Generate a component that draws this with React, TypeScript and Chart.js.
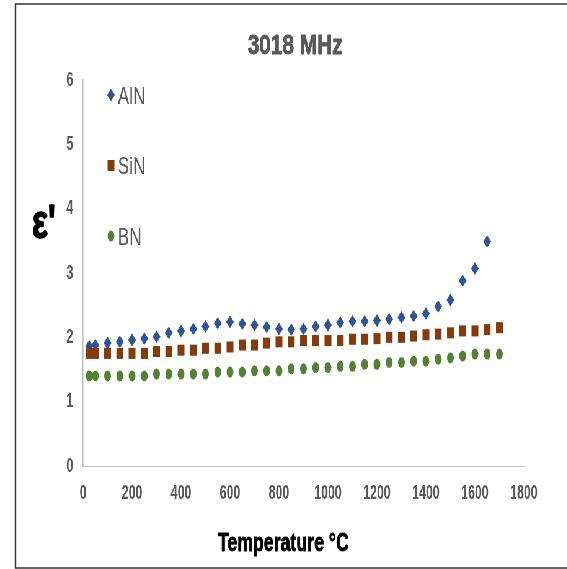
import React, { useEffect, useRef } from 'react';
import { Chart, registerables } from 'chart.js';

Chart.register(...registerables);

// Measurement temperatures (°C)
const temperatures = [
  25, 50, 100, 150, 200, 250, 300, 350, 400, 450, 500, 550, 600, 650, 700, 750, 800, 850,
  900, 950, 1000, 1050, 1100, 1150, 1200, 1250, 1300, 1350, 1400, 1450, 1500, 1550, 1600,
  1650, 1700,
];

// Real permittivity ε' at 3018 MHz
const alnValues = [
  1.86, 1.88, 1.91, 1.93, 1.96, 1.98, 2.01, 2.07, 2.1, 2.13, 2.17, 2.22, 2.24, 2.21, 2.19,
  2.16, 2.13, 2.12, 2.13, 2.17, 2.19, 2.23, 2.25, 2.25, 2.26, 2.28, 2.31, 2.33, 2.37, 2.48,
  2.58, 2.88, 3.07, 3.49,
];
const sinValues = [
  1.75, 1.75, 1.75, 1.75, 1.75, 1.75, 1.78, 1.78, 1.8, 1.8, 1.83, 1.83, 1.85, 1.88, 1.88,
  1.91, 1.93, 1.93, 1.95, 1.95, 1.95, 1.95, 1.97, 1.97, 1.98, 2.0, 2.0, 2.02, 2.04, 2.05,
  2.07, 2.1, 2.1, 2.12, 2.15,
];
const bnValues = [
  1.4, 1.4, 1.4, 1.4, 1.4, 1.4, 1.43, 1.43, 1.43, 1.43, 1.43, 1.46, 1.46, 1.46, 1.48, 1.48,
  1.48, 1.51, 1.51, 1.53, 1.53, 1.55, 1.55, 1.58, 1.58, 1.61, 1.61, 1.63, 1.63, 1.66, 1.68,
  1.71, 1.74, 1.74, 1.74,
];

const seriesLabels = ['AlN', 'SiN', 'BN'];
const xTickValues = [0, 200, 400, 600, 800, 1000, 1200, 1400, 1600, 1800];
const yTickValues = [0, 1, 2, 3, 4, 5, 6];

const chartTitle = '3018 MHz';
const xAxisTitle = 'Temperature °C';
const yAxisTitle = "ε'";

const FONT = "'Liberation Sans', Arial, sans-serif";
const SQUEEZE = 0.62; // horizontal compression of the whole figure
const W = 915;
const H = 569;

const toPoints = (vals: number[]) => vals.map((v, i) => ({ x: temperatures[i], y: v }));

function drawMarker(ctx: CanvasRenderingContext2D, style: string, x: number, y: number, color: string) {
  ctx.save();
  ctx.fillStyle = color;
  ctx.beginPath();
  if (style === 'rectRot') {
    const r = 6.3;
    ctx.moveTo(x, y - r);
    ctx.lineTo(x + r, y);
    ctx.lineTo(x, y + r);
    ctx.lineTo(x - r, y);
    ctx.closePath();
  } else if (style === 'rect') {
    ctx.rect(x - 5.5, y - 5.5, 11, 11);
  } else {
    ctx.arc(x, y, 5.5, 0, Math.PI * 2);
  }
  ctx.fill();
  ctx.restore();
}

function drawText(
  ctx: CanvasRenderingContext2D,
  text: string,
  x: number,
  y: number,
  font: string,
  color: string,
  align: CanvasTextAlign,
  stretch: number,
  outline = 0
) {
  ctx.save();
  ctx.translate(x, y);
  ctx.scale(stretch, 1);
  ctx.font = font;
  ctx.fillStyle = color;
  ctx.textAlign = align;
  ctx.textBaseline = 'alphabetic';
  ctx.fillText(text, 0, 0);
  if (outline > 0) {
    ctx.strokeStyle = color;
    ctx.lineWidth = outline;
    ctx.lineJoin = 'round';
    ctx.strokeText(text, 0, 0);
  }
  ctx.restore();
}

const decorations = {
  id: 'decorations',
  afterDraw(chart: any) {
    const ctx: CanvasRenderingContext2D = chart.ctx;
    // frame
    ctx.save();
    ctx.strokeStyle = '#333333';
    ctx.lineWidth = 1.5;
    ctx.beginPath();
    ctx.moveTo(25, 4);
    ctx.lineTo(W + 10, 4);
    ctx.moveTo(25, 568);
    ctx.lineTo(W + 10, 568);
    ctx.stroke();
    ctx.lineWidth = 2.4;
    ctx.beginPath();
    ctx.moveTo(25, 3.25);
    ctx.lineTo(25, 568.75);
    ctx.stroke();
    ctx.restore();

    drawText(ctx, chartTitle, 476, 54, `bold 28px ${FONT}`, '#595959', 'center', 1.2, 0.8);
    drawText(ctx, xAxisTitle, 457, 551, `bold 26px ${FONT}`, '#000000', 'center', 1.1, 0.8);
    drawText(ctx, yAxisTitle, 52, 238, `bold 48px ${FONT}`, '#000000', 'left', 1.1, 1.5);

    // legend
    const rows = [95, 165.5, 236];
    chart.data.datasets.forEach((ds: any, i: number) => {
      const y = rows[i];
      drawMarker(ctx, ds.pointStyle, 179, y, ds.backgroundColor);
      drawText(ctx, ds.label, 190, y + 8.5, `24px ${FONT}`, '#595959', 'left', 1.15);
    });
  },
};

const tickFont = { family: FONT, size: 20, weight: 'bold' };

export default function App() {
  const canvasRef = useRef<HTMLCanvasElement | null>(null);

  useEffect(() => {
    if (!canvasRef.current) return;
    const chart = new Chart(canvasRef.current, {
      type: 'scatter',
      data: {
        datasets: [
          {
            label: seriesLabels[0],
            data: toPoints(alnValues),
            pointStyle: 'rectRot',
            pointRadius: 6.3,
            backgroundColor: '#2F5597',
            borderColor: '#2F5597',
            borderWidth: 0,
            order: 2,
          },
          {
            label: seriesLabels[1],
            data: toPoints(sinValues),
            pointStyle: 'rect',
            pointRadius: 7.8,
            backgroundColor: '#843C0C',
            borderColor: '#843C0C',
            borderWidth: 0,
            order: 1,
          },
          {
            label: seriesLabels[2],
            data: toPoints(bnValues),
            pointStyle: 'circle',
            pointRadius: 5.5,
            backgroundColor: '#548235',
            borderColor: '#548235',
            borderWidth: 0,
            order: 0,
          },
        ],
      },
      options: {
        responsive: false,
        animation: false,
        layout: { padding: { top: 80, right: 70, bottom: 0, left: 0 } },
        plugins: {
          legend: { display: false },
          title: { display: false },
          tooltip: { enabled: false },
        },
        scales: {
          x: {
            type: 'linear',
            min: 0,
            max: 1800,
            afterBuildTicks: (s: any) => {
              s.ticks = xTickValues.map((v) => ({ value: v }));
            },
            afterFit: (s: any) => {
              s.height = 103;
            },
            grid: { display: true, drawOnChartArea: false, drawTicks: false },
            border: { display: true, color: '#BFBFBF', width: 1 },
            ticks: {
              padding: 15,
              color: '#595959',
              font: tickFont,
              callback: (v: any) => String(v),
            },
          },
          y: {
            type: 'linear',
            min: 0,
            max: 6,
            afterBuildTicks: (s: any) => {
              s.ticks = yTickValues.map((v) => ({ value: v }));
            },
            afterFit: (s: any) => {
              s.width = 134;
            },
            grid: { display: true, drawOnChartArea: false, drawTicks: false },
            border: { display: true, color: '#BFBFBF', width: 1.6 },
            ticks: {
              padding: 16,
              color: '#595959',
              font: tickFont,
              callback: (v: any) => String(v),
            },
          },
        },
      },
      plugins: [decorations],
    } as any);
    return () => chart.destroy();
  }, []);

  return (
    <div
      style={{
        position: 'fixed',
        left: 0,
        top: 0,
        width: W,
        height: H,
        background: '#ffffff',
        transform: `scaleX(${SQUEEZE})`,
        transformOrigin: '0 0',
      }}
    >
      <canvas ref={canvasRef} width={W} height={H} />
    </div>
  );
}
